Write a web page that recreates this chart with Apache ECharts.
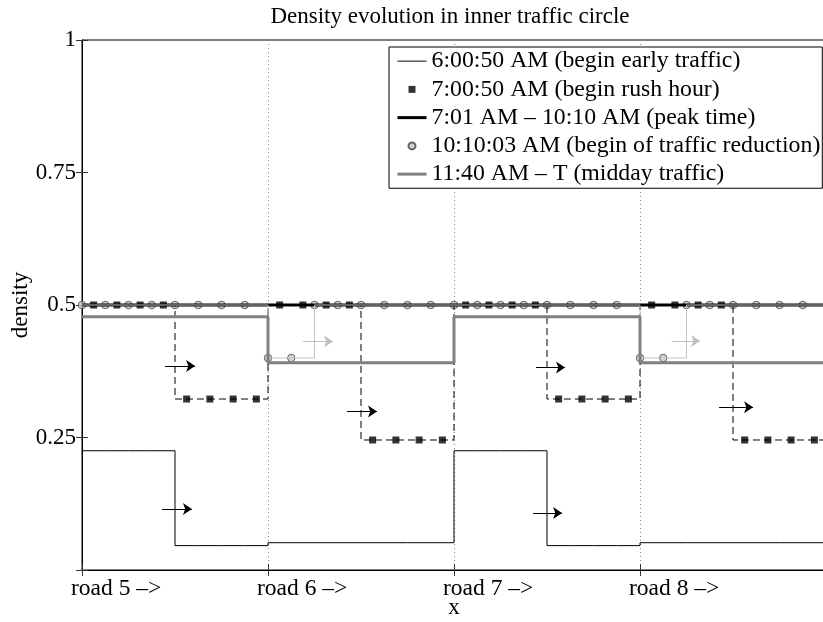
<!DOCTYPE html>
<html><head><meta charset="utf-8">
<script src="https://cdn.jsdelivr.net/npm/echarts@6/dist/echarts.min.js"></script>
<style>html,body{margin:0;padding:0;background:#fff}#c{width:823px;height:622px}</style>
</head><body><div id="c"></div>
<script>
const FONT = 'Liberation Serif';
const titleText = 'Density evolution in inner traffic circle';
const xName = 'x';
const yName = 'density';
const xTickLabels = ['road 5 –>', 'road 6 –>', 'road 7 –>', 'road 8 –>', ''];
const seriesNames = [
  '6:00:50 AM (begin early traffic)',
  '7:00:50 AM (begin rush hour)',
  '7:01 AM – 10:10 AM (peak time)',
  '10:10:03 AM (begin of traffic reduction)',
  '11:40 AM – T (midday traffic)'
];
// cell edges along the four roads (8 cells per road)
const cellEdges = [0, 0.125, 0.25, 0.375, 0.5, 0.625, 0.75, 0.875,
  1, 1.125, 1.25, 1.375, 1.5, 1.625, 1.75, 1.875,
  2, 2.125, 2.25, 2.375, 2.5, 2.625, 2.75, 2.875,
  3, 3.125, 3.25, 3.375, 3.5, 3.625, 3.75, 3.875, 4];
const earlyCells = [0.225, 0.225, 0.225, 0.225, 0.046, 0.046, 0.046, 0.046,
  0.0515, 0.0515, 0.0515, 0.0515, 0.0515, 0.0515, 0.0515, 0.0515,
  0.225, 0.225, 0.225, 0.225, 0.046, 0.046, 0.046, 0.046,
  0.0515, 0.0515, 0.0515, 0.0515, 0.0515, 0.0515, 0.0515, 0.0515];
const rushCells = [0.5, 0.5, 0.5, 0.5, 0.3226, 0.3226, 0.3226, 0.3226,
  0.5, 0.5, 0.5, 0.5, 0.2453, 0.2453, 0.2453, 0.2453,
  0.5, 0.5, 0.5, 0.5, 0.3226, 0.3226, 0.3226, 0.3226,
  0.5, 0.5, 0.5, 0.5, 0.2453, 0.2453, 0.2453, 0.2453];
const peakCells = [0.5, 0.5, 0.5, 0.5, 0.5, 0.5, 0.5, 0.5,
  0.5, 0.5, 0.5, 0.5, 0.5, 0.5, 0.5, 0.5,
  0.5, 0.5, 0.5, 0.5, 0.5, 0.5, 0.5, 0.5,
  0.5, 0.5, 0.5, 0.5, 0.5, 0.5, 0.5, 0.5];
const reductionCells = [0.5, 0.5, 0.5, 0.5, 0.5, 0.5, 0.5, 0.5,
  0.4, 0.4, 0.5, 0.5, 0.5, 0.5, 0.5, 0.5,
  0.5, 0.5, 0.5, 0.5, 0.5, 0.5, 0.5, 0.5,
  0.4, 0.4, 0.5, 0.5, 0.5, 0.5, 0.5, 0.5];
const middayCells = [0.478, 0.478, 0.478, 0.478, 0.478, 0.478, 0.478, 0.478,
  0.391, 0.391, 0.391, 0.391, 0.391, 0.391, 0.391, 0.391,
  0.478, 0.478, 0.478, 0.478, 0.478, 0.478, 0.478, 0.478,
  0.391, 0.391, 0.391, 0.391, 0.391, 0.391, 0.391, 0.391];
// arrows: [xStart, xEnd, y]
const arrowsBlack = [[0.430, 0.591, 0.115], [0.446, 0.608, 0.385], [1.425, 1.586, 0.299],
  [2.441, 2.597, 0.382], [2.425, 2.581, 0.1075], [3.425, 3.608, 0.307]];
const arrowsGray = [[1.188, 1.349, 0.431], [3.170, 3.323, 0.432]];

function stairs(edges, cells) { return edges.map((x, i) => [x, cells[Math.min(i, cells.length - 1)]]); }
function centers(edges, cells) { return cells.map((v, i) => [(edges[i] + edges[i + 1]) / 2, v]); }
function lefts(edges, cells) { return cells.map((v, i) => [edges[i], v]); }
function arrowData(list) { return list.map(a => [{ coord: [a[0], a[2]] }, { coord: [a[1], a[2]] }]); }

const chart = echarts.init(document.getElementById('c'), null, { renderer: 'canvas' });
const lineBase = { type: 'line', step: 'end', symbol: 'none', showSymbol: false, animation: false, silent: true, emphasis: { disabled: true } };
const txt = { fontFamily: FONT, fontSize: 23, color: '#000' };
const option = {
  animation: false,
  backgroundColor: '#fff',
  title: { text: titleText, left: 450, top: 5, padding: 0, textAlign: 'center', textStyle: { fontFamily: FONT, fontSize: 23, fontWeight: 'normal', color: '#000' } },
  grid: { left: 82, top: 40, right: -3, bottom: 52, show: true, borderColor: '#000', borderWidth: 1, containLabel: false, outerBoundsMode: 'none' },
  legend: {
    orient: 'vertical', left: 389, top: 47, selectedMode: false,
    backgroundColor: '#fff', borderColor: '#000', borderWidth: 1,
    padding: [0, 2, 0, 7], itemGap: 0, itemWidth: 29, itemHeight: 7,
    textStyle: { fontFamily: FONT, fontSize: 23.8, color: '#000', lineHeight: 28.25 },
    data: [
      { name: seriesNames[0], itemStyle: { opacity: 0 }, lineStyle: { width: 1, color: '#000' } },
      { name: seriesNames[1], icon: 'path://M0,0L10,0L10,10L0,10Z' },
      { name: seriesNames[2], itemStyle: { opacity: 0 }, lineStyle: { width: 3, color: '#000' } },
      { name: seriesNames[3], icon: 'circle' },
      { name: seriesNames[4], itemStyle: { opacity: 0 }, lineStyle: { width: 3, color: '#808080' } }
    ]
  },
  xAxis: [{
    type: 'value', min: 0, max: 4, interval: 1, position: 'bottom',
    name: xName, nameLocation: 'middle', nameGap: 26, nameMoveOverlap: false, nameTextStyle: txt,
    axisLine: { show: true, lineStyle: { color: '#000', width: 1 } },
    axisTick: { show: true, inside: true, length: 6, lineStyle: { color: '#333' } },
    splitLine: { show: true, lineStyle: { color: '#888', width: 1, type: [1, 3] } },
    axisLabel: { ...txt, fontSize: 23.5, margin: 7, align: 'left', padding: [0, 0, 0, -11], formatter: v => xTickLabels[Math.round(v)] }
  }, {
    type: 'value', min: 0, max: 4, interval: 1, position: 'top',
    axisLine: { show: true, lineStyle: { color: '#000', width: 1 } },
    axisTick: { show: true, inside: true, length: 6, lineStyle: { color: '#333' } },
    splitLine: { show: false }, axisLabel: { show: false }
  }],
  yAxis: [{
    type: 'value', min: 0, max: 1, interval: 0.25, position: 'left',
    name: yName, nameLocation: 'middle', nameGap: 50, nameRotate: 90, nameMoveOverlap: false, nameTextStyle: txt,
    axisLine: { show: true, lineStyle: { color: '#000', width: 1 } },
    axisTick: { show: true, inside: true, length: 6, lineStyle: { color: '#333' } },
    splitLine: { show: false },
    axisLabel: { ...txt, margin: 6, formatter: v => (v === 0 ? '' : String(v)) }
  }, {
    type: 'value', min: 0, max: 1, interval: 0.25, position: 'right',
    axisLine: { show: true, lineStyle: { color: '#000', width: 1 } },
    axisTick: { show: true, inside: true, length: 6, lineStyle: { color: '#333' } },
    splitLine: { show: false }, axisLabel: { show: false }
  }],
  series: [
    { ...lineBase, name: seriesNames[0], data: stairs(cellEdges, earlyCells), lineStyle: { color: '#000', width: 1 }, itemStyle: { color: '#000' } },
    { ...lineBase, name: 'rush-line', data: stairs(cellEdges, rushCells), lineStyle: { color: '#000', width: 1, type: [7, 4] }, itemStyle: { color: '#000' } },
    { ...lineBase, name: seriesNames[2], data: stairs(cellEdges, peakCells), lineStyle: { color: '#000', width: 3 }, itemStyle: { color: '#000' } },
    { ...lineBase, name: 'reduction-line', data: stairs(cellEdges, reductionCells), lineStyle: { color: '#c4c4c4', width: 1 }, itemStyle: { color: '#c4c4c4' } },
    { ...lineBase, name: seriesNames[4], data: stairs(cellEdges, middayCells), lineStyle: { color: '#808080', width: 3 }, itemStyle: { color: '#808080' } },
    { type: 'scatter', name: seriesNames[1], data: centers(cellEdges, rushCells), symbol: 'rect', symbolSize: 7, itemStyle: { color: '#000' }, animation: false, silent: true },
    { type: 'scatter', name: seriesNames[3], data: lefts(cellEdges, reductionCells), symbol: 'circle', symbolSize: 7.5, itemStyle: { color: '#c8c8c8', borderColor: '#444', borderWidth: 1 }, animation: false, silent: true },
    { type: 'line', name: 'arrows-black', data: [], animation: false, silent: true,
      markLine: { silent: true, animation: false, symbol: ['none', 'arrow'], symbolSize: 9, label: { show: false },
        lineStyle: { color: '#000', width: 1, type: 'solid' }, emphasis: { disabled: true }, data: arrowData(arrowsBlack) } },
    { type: 'line', name: 'arrows-gray', data: [], animation: false, silent: true,
      markLine: { silent: true, animation: false, symbol: ['none', 'arrow'], symbolSize: 9, label: { show: false },
        lineStyle: { color: '#c0c0c0', width: 1, type: 'solid' }, emphasis: { disabled: true }, data: arrowData(arrowsGray) } }
  ]
};
chart.setOption(option);
</script>
</body></html>
